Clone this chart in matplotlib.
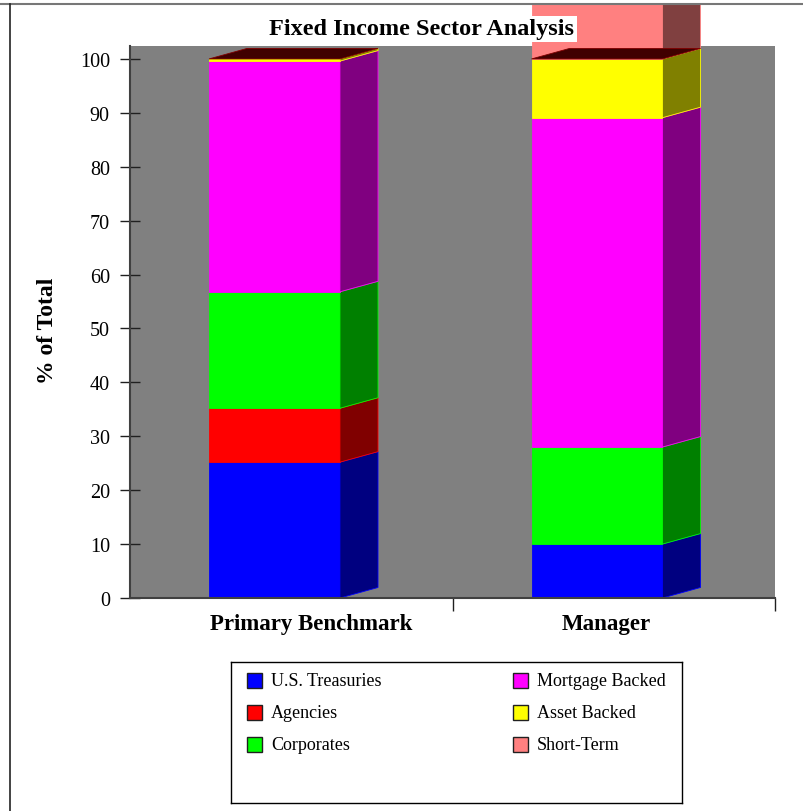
import matplotlib
matplotlib.use("Agg")
import matplotlib.pyplot as plt
from matplotlib.lines import Line2D
from matplotlib.patches import Polygon, Rectangle
from matplotlib.transforms import Bbox, TransformedBbox

plt.rcParams["font.family"] = ["Liberation Serif", "DejaVu Serif"]

categories = ["Primary Benchmark", "Manager"]
sectors = ["U.S. Treasuries", "Agencies", "Corporates",
           "Mortgage Backed", "Asset Backed", "Short-Term"]

# % of total per sector, one value per category
treasuries = [25.2, 10.0]
agencies = [10.0, 0.0]
corporates = [21.6, 18.0]
mortgage_backed = [42.8, 61.1]
asset_backed = [0.4, 10.9]
short_term = [0.0, 12.0]

series = [treasuries, agencies, corporates, mortgage_backed, asset_backed, short_term]
front_colors = ["#0000ff", "#ff0000", "#00ff00", "#ff00ff", "#ffff00", "#ff8080"]
side_colors = ["#000080", "#800000", "#008000", "#800080", "#808000", "#804040"]

W, H = 804, 812
fig = plt.figure(figsize=(W / 100, H / 100), dpi=100)
ax = fig.add_axes([130 / W, 1 - 599 / H, 645 / W, 552 / H])
ax.set_xlim(-0.5, 1.5)
ax.set_ylim(0, 102.4)
ax.set_facecolor("#808080")

# bars may run past the plot area, only the page frame cuts them
page_clip = TransformedBbox(Bbox([[0, 0], [1, 1 - 5 / H]]), fig.transFigure)

bar_w = 0.406
depth_x = 0.118
depth_y = 1.95

for i, cat in enumerate(categories):
    x0 = i - 0.255
    bottom = 0.0
    for j, vals in enumerate(series):
        v = vals[i]
        if v <= 0:
            continue
        top = bottom + v
        front = Rectangle((x0, bottom), bar_w, v, fc=front_colors[j],
                          ec=front_colors[j], lw=0.6, zorder=2)
        side = Polygon([(x0 + bar_w, bottom), (x0 + bar_w + depth_x, bottom + depth_y),
                        (x0 + bar_w + depth_x, top + depth_y), (x0 + bar_w, top)],
                       closed=True, fc=side_colors[j], ec=front_colors[j], lw=0.6, zorder=2)
        for p in (front, side):
            ax.add_patch(p)
            p.set_clip_path(None)
            p.set_clip_box(page_clip)
        bottom = top
    lid = min(bottom, 100)
    lid_face = Polygon([(x0, lid), (x0 + bar_w, lid), (x0 + bar_w + depth_x, lid + depth_y),
                        (x0 + depth_x, lid + depth_y)],
                       closed=True, fc="#400000", ec="#800000", lw=0.6, zorder=3)
    ax.add_patch(lid_face)
    lid_face.set_clip_path(None)
    lid_face.set_clip_box(page_clip)

# axes styling
for s in ("top", "right"):
    ax.spines[s].set_visible(False)
for s in ("left", "bottom"):
    ax.spines[s].set_color("#404040")
    ax.spines[s].set_linewidth(1.5)

ax.set_yticks(range(0, 101, 10))
ax.tick_params(axis="y", direction="inout", length=15, width=1, color="#202020",
               pad=7, labelsize=14.5)

# ticks sit on the category boundaries, names go underneath each bar
ax.set_xticks([0.5, 1.5])
ax.set_xticklabels([])
ax.tick_params(axis="x", which="major", direction="out", length=9.5, width=1, color="#202020")
for i, (cat, dx) in enumerate(zip(categories, [20, -8])):
    ax.annotate(cat, xy=(i, 0), xycoords=("data", "axes fraction"),
                xytext=(dx, -26), textcoords="offset pixels",
                ha="center", va="center", fontsize=16.5, fontweight="bold")

ax.set_ylabel("% of Total", fontsize=17, fontweight="bold")
ax.yaxis.set_label_coords(-0.112, 0.485)

fig.text(422 / W, 1 - 30 / H, "Fixed Income Sector Analysis", ha="center", va="center",
         fontsize=17.5, fontweight="bold", zorder=10,
         bbox=dict(fc="white", ec="none", pad=2))

# legend box, two columns of three
leg = fig.add_axes([231 / W, 1 - 804 / H, 451 / W, 141 / H])
leg.set_xticks([])
leg.set_yticks([])
leg.set_xlim(0, 1)
leg.set_ylim(0, 1)
for s in leg.spines.values():
    s.set_color("black")
    s.set_linewidth(1)
row_y = [0.872, 0.645, 0.418]
col_x = [0.0355, 0.625]
sw, sh = 15 / 451, 15 / 141
for k, name in enumerate(sectors):
    cx = col_x[k // 3]
    cy = row_y[k % 3]
    leg.add_patch(Rectangle((cx, cy - sh / 2), sw, sh, fc=front_colors[k], ec="#202020", lw=1))
    leg.text(cx + 24 / 451, cy, name, ha="left", va="center", fontsize=13)

# page frame
fig.add_artist(Line2D([0, 1], [1 - 4.5 / H] * 2, transform=fig.transFigure,
                      color="#777777", lw=1.5, zorder=20))
fig.add_artist(Line2D([10.5 / W] * 2, [0, 1 - 4.5 / H], transform=fig.transFigure,
                      color="#222222", lw=1.2, zorder=20))

fig.savefig("out.png", dpi=100)
